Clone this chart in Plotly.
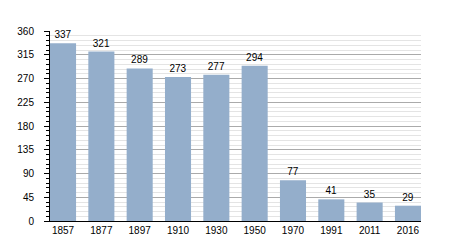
import plotly.graph_objects as go

years = ["1857", "1877", "1897", "1910", "1930", "1950", "1970", "1991", "2011", "2016"]
population = [337, 321, 289, 273, 277, 294, 77, 41, 35, 29]
y_ticks = [0, 45, 90, 135, 180, 225, 270, 315, 360]

fig = go.Figure(go.Bar(
    x=list(range(len(years))), y=population,
    marker=dict(color="#94aecb", line=dict(width=0)),
    width=0.68,
    text=[str(v) for v in population], textposition="outside",
    textfont=dict(color="black", size=10, family="Liberation Sans, Arial"),
    cliponaxis=False,
))

fig.update_layout(
    width=450, height=250,
    margin=dict(l=50, r=29, t=31, b=29),
    paper_bgcolor="white", plot_bgcolor="white",
    font=dict(family="Liberation Sans, Arial", size=10, color="black"),
    showlegend=False,
    xaxis=dict(
        tickmode="array", tickvals=list(range(len(years))), ticktext=years,
        range=[-0.34, len(years) - 1 + 0.34],
        showgrid=False, showline=True, linecolor="black", linewidth=1,
        ticks="", zeroline=False,
    ),
    yaxis=dict(
        range=[0, 360], tickmode="array", tickvals=y_ticks,
        showgrid=True, gridcolor="#aaaaaa", gridwidth=1,
        showline=True, linecolor="black", linewidth=1,
        ticks="outside", ticklen=5, tickcolor="black",
        ticklabelstandoff=8,
        zeroline=False,
        minor=dict(dtick=9, tick0=0, showgrid=True, gridcolor="#e4e4e4",
                   ticks="outside", ticklen=3, tickcolor="black"),
    ),
)

fig.write_html("out.html")
